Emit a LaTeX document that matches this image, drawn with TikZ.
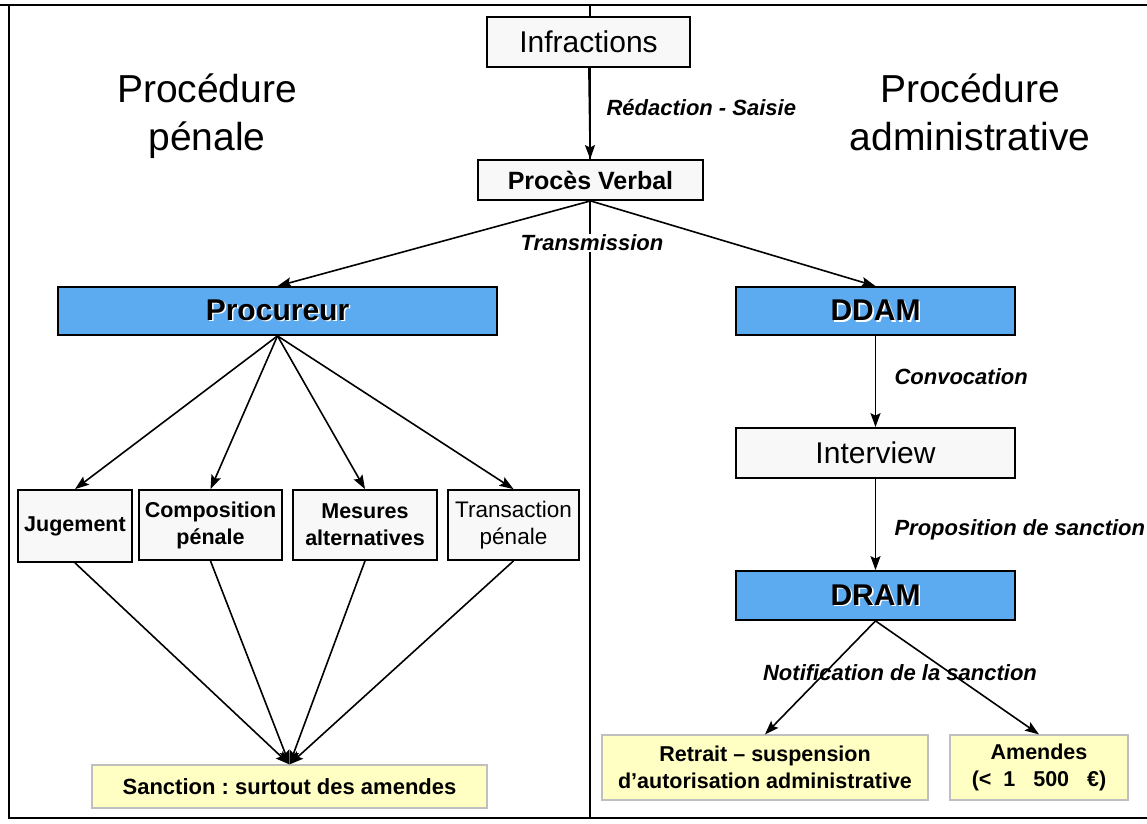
\documentclass[tikz,border=0pt]{standalone}
\usepackage{fontspec}
\setmainfont{Liberation Sans}
\usepackage{tikz}
\usetikzlibrary{calc,arrows.meta}
\definecolor{boxblue}{RGB}{92,170,240}
\definecolor{boxyellow}{RGB}{255,255,196}
\definecolor{boxgray}{RGB}{248,248,248}
\newcommand{\shd}[1]{\makebox[0pt][l]{\hspace{1.6pt}\raisebox{-1.6pt}{\color{white}#1}}#1}
\frenchspacing
\tikzset{
  plainbox/.style={draw, line width=1.8pt, fill=boxgray, inner sep=0pt, align=center},
  bluebox/.style={draw, line width=1.8pt, fill=boxblue, inner sep=0pt, font=\fontsize{30}{32}\selectfont\bfseries},
  yellowbox/.style={draw=black!25, line width=1.2pt, fill=boxyellow, inner sep=0pt, align=center, font=\fontsize{21.5}{27}\selectfont\bfseries},
  mesure/.style={plainbox, minimum height=70pt, font=\fontsize{21.5}{27}\selectfont\bfseries},
  lbl/.style={font=\fontsize{22}{24}\selectfont\bfseries\itshape},
  title/.style={align=center, font=\fontsize{39}{48}\selectfont},
  arr/.style={line width=1.6pt, -{Stealth[length=14pt,width=10pt,inset=2.5pt]}},
}

\begin{document}
\begin{tikzpicture}[x=1pt,y=-1pt]
            \useasboundingbox (0,0) rectangle (1147,823);
            \draw[line width=2.2pt] (0,5)--(1147,5);
            \draw[line width=2.2pt] (9,5)--(9,818)--(1147,818);
            \draw[line width=2.2pt] (590,5)--(590,818);
            \node[title] (tpen) at (207,116) {Procédure\\pénale};
            \node[title] (tadm) at (970,112) {Procédure\\administrative};
            \node[plainbox, minimum width=203pt, minimum height=50pt, font=\fontsize{30}{32}\selectfont] (infr) at (588.5,42) {Infractions};
            \node[plainbox, minimum width=225pt, minimum height=40pt, font=\fontsize{25}{27}\selectfont\bfseries] (pv) at (590.5,180) {Procès Verbal};
            \node[bluebox, minimum width=439pt, minimum height=48pt] (proc) at (277.5,311) {\shd{Procureur}};
            \node[bluebox, minimum width=279pt, minimum height=48pt] (ddam) at (875.5,311) {\shd{DDAM}};
            \node[plainbox, minimum width=279pt, minimum height=50pt, font=\fontsize{30}{32}\selectfont] (interv) at (875.5,453) {Interview};
            \node[bluebox, minimum width=279pt, minimum height=49pt] (dram) at (875.5,595.5) {\shd{DRAM}};
            \node[mesure, minimum width=114pt, minimum height=72pt] (jug) at (75,526) {Jugement};
            \node[mesure, minimum width=143pt] (comp) at (210.5,525) {Composition\\pénale};
            \node[mesure, minimum width=144pt] (alt) at (365,525) {Mesures\\alternatives};
            \node[mesure, minimum width=131pt, font=\fontsize{22.5}{27}\selectfont] (trans) at (513.5,525) {Transaction\\pénale};
            \node[yellowbox, minimum width=395pt, minimum height=43pt, font=\fontsize{22}{27}\selectfont\bfseries] (sanc) at (289.5,786.5) {Sanction : surtout des amendes};
            \node[yellowbox, minimum width=326pt, minimum height=65pt] (retr) at (765,767.5) {Retrait -- suspension\\d'autorisation administrative};
            \node[yellowbox, minimum width=178pt, minimum height=65pt] (amen) at (1039,767.5) {Amendes\\(<\ \ 1\ \ \ 500\ \ \ €)};
            \draw[arr] (infr)--(pv);
            \node[lbl, anchor=west] at (603,108) {Rédaction - Saisie};
            \draw[arr] (pv.south)--(proc.north);
            \draw[arr] (pv.south)--(ddam.north);
            \node[lbl, fill=white, inner sep=1pt] at (592,243) {Transmission};
            \foreach \b in {jug,comp,alt,trans}{
                \draw[arr] (proc.south)--(\b.north);
                \draw[arr] (\b.south)--(sanc.north);
            }
            \draw[arr] (ddam)--(interv);
            \node[lbl, anchor=west] at (891,377) {Convocation};
            \draw[arr] (interv)--(dram);
            \node[lbl, anchor=west] at (891,530) {Proposition de sanction};
            \draw[arr] (dram.south)--(retr.north);
            \draw[arr] (dram.south)--(amen.north);
            \node[lbl] at (900,673) {Notification de la sanction};
        \end{tikzpicture}
\end{document}
